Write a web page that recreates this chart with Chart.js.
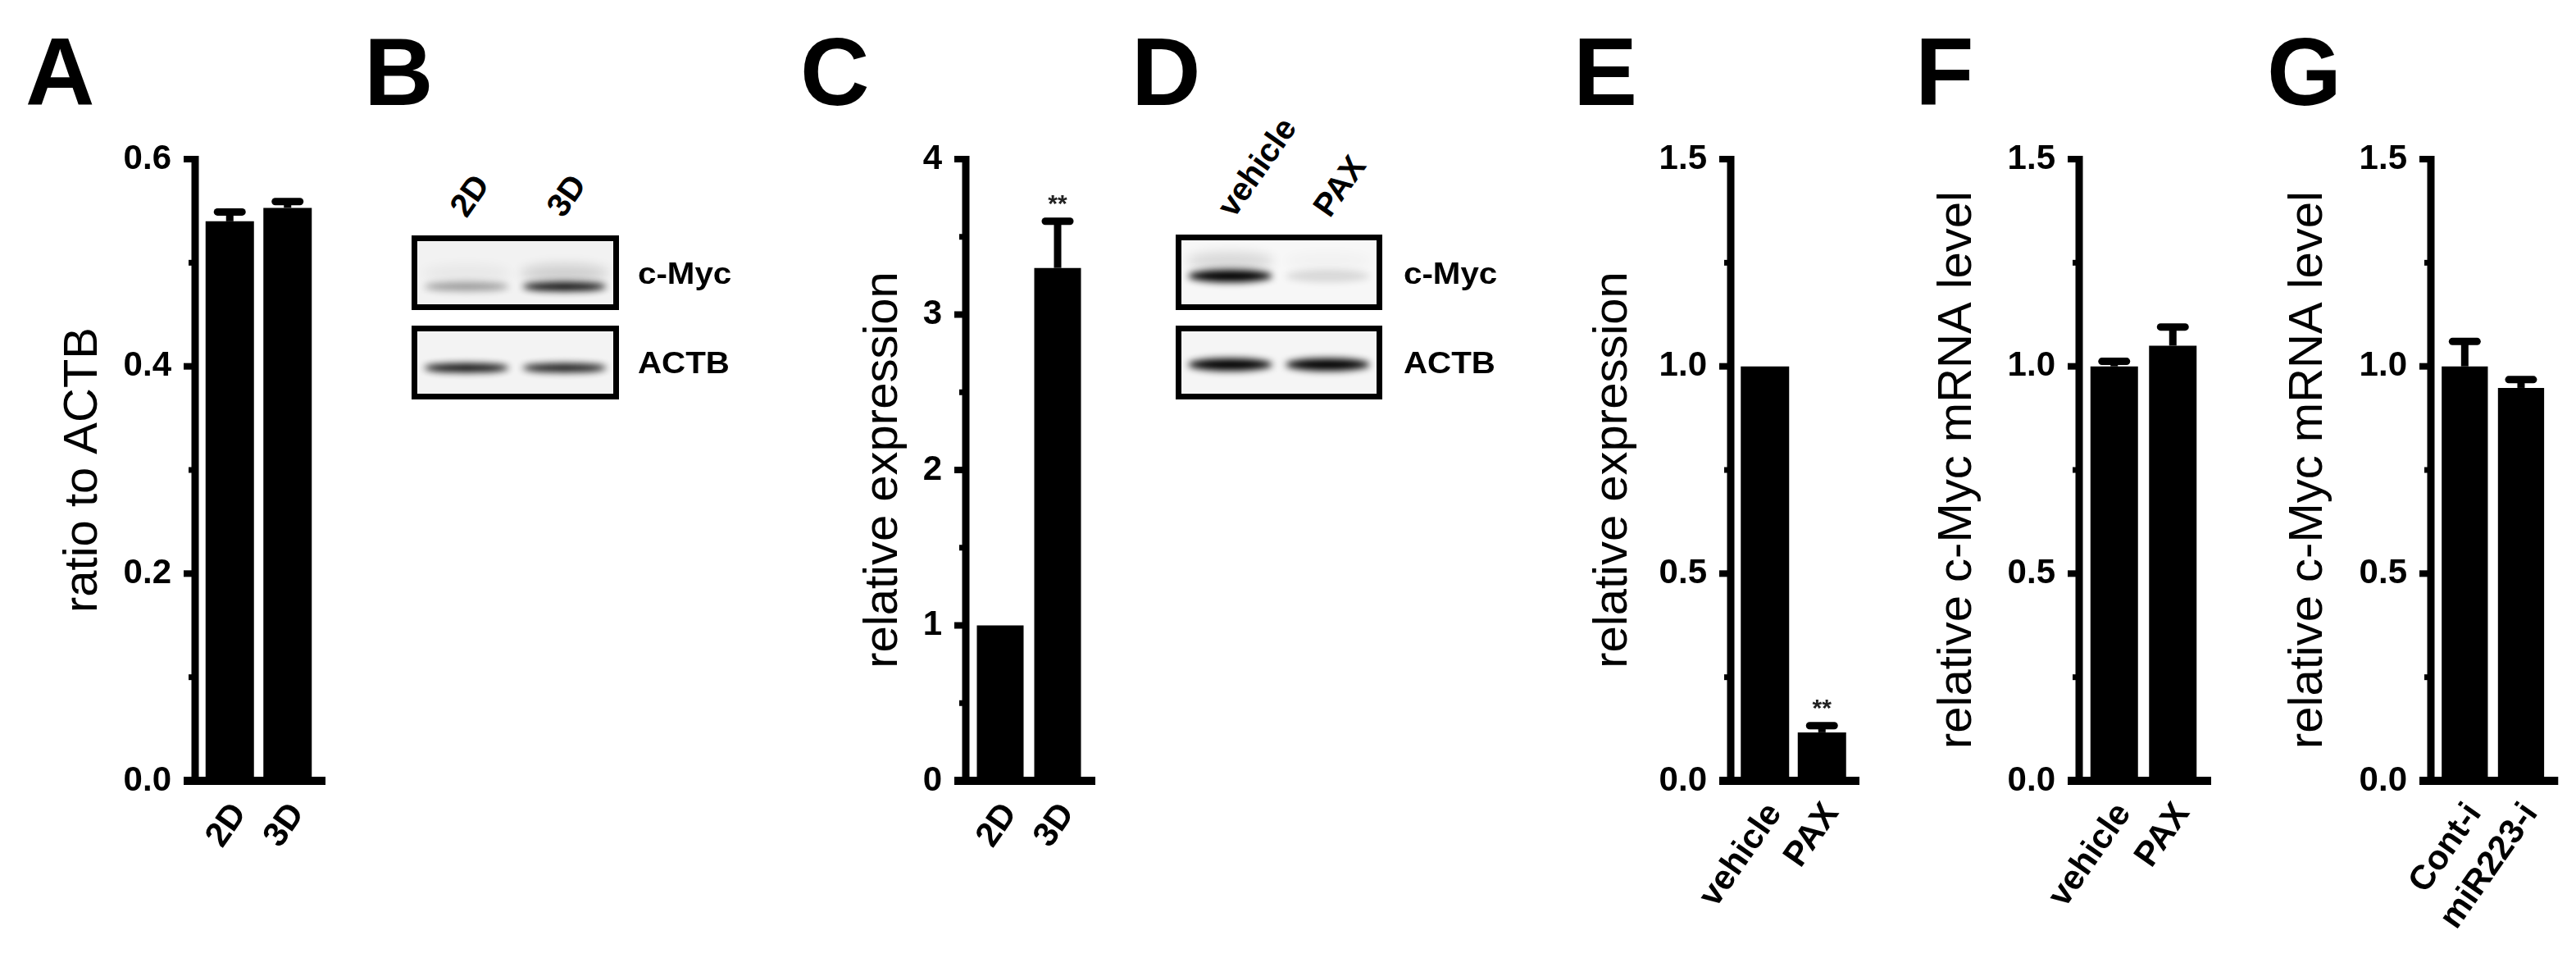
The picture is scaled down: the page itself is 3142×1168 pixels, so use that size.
<!DOCTYPE html>
<html>
<head>
<meta charset="utf-8">
<title>c-Myc expression in 2D / 3D culture</title>
<script src="https://cdn.jsdelivr.net/npm/chart.js@4.4.1/dist/chart.umd.min.js"></script>
<style>
  html, body { margin: 0; padding: 0; background: #fff; }
  #figure { position: relative; width: 3142px; height: 1168px; overflow: hidden;
            font-family: "Liberation Sans", Arial, Helvetica, sans-serif; color: #000; }
  #figure canvas { position: absolute; top: 0; }
  .panel-letter { position: absolute; top: 29px; font-weight: bold; font-size: 117px; line-height: 1; }
  .blot { position: absolute; box-sizing: border-box; border: 7px solid #000; background: #f4f4f4; overflow: hidden; }
  .band { position: absolute; border-radius: 50%; background: #000; filter: blur(4px); }
  .blot-label { position: absolute; font-weight: bold; font-size: 36px; line-height: 1; white-space: nowrap;
                transform-origin: 0 0; transform: scaleX(1.12); }
  .lane-label { position: absolute; font-weight: bold; font-size: 40px; line-height: 1; white-space: nowrap;
                transform-origin: 0 34px; transform: rotate(-55deg); }
</style>
</head>
<body>
<div id="figure"></div>
<script>
// ---- data ----

// A: c-Myc / ACTB band ratio
const aLabels = ['2D', '3D'];
const aMeans = [0.540, 0.553];
const aErrors = [0.009, 0.006];
const aStars = ['', ''];
const aTicks = ['0.0', '0.2', '0.4', '0.6'];

// C: relative expression (protein)
const cLabels = ['2D', '3D'];
const cMeans = [1.0, 3.30];
const cErrors = [0, 0.30];
const cStars = ['', '**'];
const cTicks = ['0', '1', '2', '3', '4'];

// E: relative expression after PAX
const eLabels = ['vehicle', 'PAX'];
const eMeans = [1.0, 0.117];
const eErrors = [0, 0.016];
const eStars = ['', '**'];
const eTicks = ['0.0', '0.5', '1.0', '1.5'];

// F: c-Myc mRNA after PAX
const fLabels = ['vehicle', 'PAX'];
const fMeans = [1.0, 1.05];
const fErrors = [0.012, 0.045];
const fStars = ['', ''];
const fTicks = ['0.0', '0.5', '1.0', '1.5'];

// G: c-Myc mRNA after miR223 inhibitor
const gLabels = ['Cont-i', 'miR223-i'];
const gMeans = [1.0, 0.948];
const gErrors = [0.06, 0.02];
const gStars = ['', ''];
const gTicks = ['0.0', '0.5', '1.0', '1.5'];

// B / D: western blot band intensity per lane (0 = none, 1 = black)
const bLanes = ['2D', '3D'];
const bMycBands = [0.35, 0.95];
const bMycHaze = [0.04, 0.14];
const bActbBands = [0.95, 0.9];
const dLanes = ['vehicle', 'PAX'];
const dMycBands = [1.0, 0.12];
const dMycHaze = [0.12, 0.02];
const dActbBands = [1.0, 1.0];

// ---- layout ----
const FONT = '"Liberation Sans", Arial, Helvetica, sans-serif';
const PLOT_TOP = 194;
const PLOT_BOTTOM = 952;
const HEIGHT = 1168;

const barPanels = [
    { letter: 'A', letterX: 31, left: 0, width: 420, plotLeft: 245, plotRight: 386, barWidth: 59, titleX: 102,
      yTitle: 'ratio to ACTB', max: 0.6, step: 0.2,
      labels: aLabels, means: aMeans, errors: aErrors, stars: aStars, ticks: aTicks },
    { letter: 'C', letterX: 976, left: 960, width: 420, plotLeft: 1185, plotRight: 1325, barWidth: 57, titleX: 1078,
      yTitle: 'relative expression', max: 4, step: 1,
      labels: cLabels, means: cMeans, errors: cErrors, stars: cStars, ticks: cTicks },
    { letter: 'E', letterX: 1919, left: 1900, width: 400, plotLeft: 2118, plotRight: 2257, barWidth: 59, titleX: 1968,
      yTitle: 'relative expression', max: 1.5, step: 0.5,
      labels: eLabels, means: eMeans, errors: eErrors, stars: eStars, ticks: eTicks },
    { letter: 'F', letterX: 2336, left: 2320, width: 400, plotLeft: 2543, plotRight: 2686, barWidth: 58, titleX: 2388,
      yTitle: 'relative c-Myc mRNA level', max: 1.5, step: 0.5,
      labels: fLabels, means: fMeans, errors: fErrors, stars: fStars, ticks: fTicks },
    { letter: 'G', letterX: 2765, left: 2740, width: 402, plotLeft: 2972, plotRight: 3111, barWidth: 57, titleX: 2816,
      yTitle: 'relative c-Myc mRNA level', max: 1.5, step: 0.5,
      labels: gLabels, means: gMeans, errors: gErrors, stars: gStars, ticks: gTicks }
];

const blotPanels = [
    { letter: 'B', letterX: 444, lanes: bLanes, laneLabelX: [569, 687],
      rows: [
          { name: 'c-Myc', box: [502, 287, 253, 91], bands: bMycBands, haze: bMycHaze, yFrac: 0.69, thick: 11, bg: '#f2f2f2' },
          { name: 'ACTB', box: [502, 397, 253, 90], bands: bActbBands, haze: null, yFrac: 0.57, thick: 11, bg: '#f3f3f3' }
      ], labelX: 778 },
    { letter: 'D', letterX: 1380, lanes: dLanes, laneLabelX: [1505, 1622],
      rows: [
          { name: 'c-Myc', box: [1434, 286, 252, 92], bands: dMycBands, haze: dMycHaze, yFrac: 0.55, thick: 15, bg: '#f7f7f7' },
          { name: 'ACTB', box: [1434, 397, 252, 90], bands: dActbBands, haze: null, yFrac: 0.53, thick: 15, bg: '#f5f5f5' }
      ], labelX: 1712 }
];
const ROW_BASELINES = [346, 455];

const fig = document.getElementById('figure');

// Plugin drawing Prism-style axes, minor ticks, error bars and stars
const prismAxes = {
    id: 'prismAxes',
    afterDatasetsDraw(chart, args, opts) {
        const { ctx, chartArea } = chart;
        const y = chart.scales.y;
        const axisX = chartArea.left - 7;
        const y0 = y.getPixelForValue(0);
        const yTop = y.getPixelForValue(y.max);
        ctx.save();
        ctx.strokeStyle = '#000';
        ctx.fillStyle = '#000';

        // y axis line
        ctx.lineWidth = 9;
        ctx.beginPath();
        ctx.moveTo(axisX, yTop - 4);
        ctx.lineTo(axisX, y0);
        ctx.stroke();

        // major and minor ticks
        const values = y.ticks.map(t => t.value);
        ctx.lineWidth = 8;
        values.forEach(v => {
            const py = y.getPixelForValue(v);
            ctx.beginPath();
            ctx.moveTo(axisX - 14, py);
            ctx.lineTo(axisX, py);
            ctx.stroke();
        });
        ctx.lineWidth = 7;
        for (let k = 0; k < values.length - 1; k++) {
            const py = y.getPixelForValue((values[k] + values[k + 1]) / 2);
            ctx.beginPath();
            ctx.moveTo(axisX - 8, py);
            ctx.lineTo(axisX, py);
            ctx.stroke();
        }

        // x axis line
        ctx.lineWidth = 10;
        ctx.beginPath();
        ctx.moveTo(axisX - 14, y0);
        ctx.lineTo(chartArea.right + 11, y0);
        ctx.stroke();

        // error bars (upper half only) and significance stars
        const meta = chart.getDatasetMeta(0);
        const means = chart.data.datasets[0].data;
        meta.data.forEach((bar, i) => {
            const err = opts.errors[i] || 0;
            const capY = y.getPixelForValue(means[i] + err);
            if (err > 0) {
                ctx.lineCap = 'butt';
                ctx.lineWidth = 9;
                ctx.beginPath();
                ctx.moveTo(bar.x, bar.y);
                ctx.lineTo(bar.x, capY);
                ctx.stroke();
                ctx.lineCap = 'round';
                ctx.beginPath();
                ctx.moveTo(bar.x - 15, capY);
                ctx.lineTo(bar.x + 15, capY);
                ctx.stroke();
            }
            if (opts.stars[i]) {
                ctx.font = 'bold 30px ' + FONT;
                ctx.textAlign = 'center';
                ctx.textBaseline = 'alphabetic';
                ctx.fillStyle = '#222';
                ctx.fillText(opts.stars[i], bar.x, capY - 12);
            }
        });
        ctx.restore();
    }
};

// Function to add a bold panel letter
function addLetter(letter, x) {
    const el = document.createElement('div');
    el.className = 'panel-letter';
    el.style.left = x + 'px';
    el.textContent = letter;
    fig.appendChild(el);
}

// Function to build one bar chart panel
function makeBarChart(p) {
    addLetter(p.letter, p.letterX);
    const canvas = document.createElement('canvas');
    canvas.width = p.width;
    canvas.height = HEIGHT;
    canvas.style.left = p.left + 'px';
    fig.appendChild(canvas);

    const categoryWidth = (p.plotRight - p.plotLeft) / p.labels.length;

    return new Chart(canvas.getContext('2d'), {
        type: 'bar',
        data: {
            labels: p.labels,
            datasets: [{
                data: p.means,
                backgroundColor: '#000',
                borderWidth: 0,
                barPercentage: p.barWidth / categoryWidth,
                categoryPercentage: 1
            }]
        },
        options: {
            responsive: false,
            animation: false,
            events: [],
            devicePixelRatio: 1,
            layout: {
                padding: { left: 0, top: PLOT_TOP, right: p.left + p.width - p.plotRight, bottom: 0 }
            },
            plugins: {
                legend: { display: false },
                tooltip: { enabled: false },
                prismAxes: { errors: p.errors, stars: p.stars }
            },
            scales: {
                x: {
                    type: 'category',
                    offset: true,
                    grid: { display: false, drawTicks: false },
                    border: { display: false },
                    ticks: {
                        color: '#000',
                        font: { family: FONT, size: 42, weight: 'bold' },
                        minRotation: 55,
                        maxRotation: 55,
                        autoSkip: false,
                        padding: 18,
                        labelOffset: 12
                    },
                    afterFit: scale => { scale.height = HEIGHT - PLOT_BOTTOM; }
                },
                y: {
                    min: 0,
                    max: p.max,
                    grid: { display: false, drawTicks: false },
                    border: { display: false },
                    ticks: {
                        stepSize: p.step,
                        color: '#000',
                        font: { family: FONT, size: 42, weight: 'bold' },
                        padding: 36,
                        callback: (value, index) => p.ticks[index]
                    },
                    title: {
                        display: true,
                        text: p.yTitle,
                        color: '#000',
                        font: { family: FONT, size: 58, weight: 'normal', lineHeight: 1 },
                        padding: { top: p.titleX - p.left - 29, bottom: 0 }
                    },
                    afterFit: scale => { scale.width = p.plotLeft - p.left; }
                }
            }
        },
        plugins: [prismAxes]
    });
}

// Function to draw a western blot panel (boxes, bands and labels)
function makeBlot(p) {
    addLetter(p.letter, p.letterX);
    p.lanes.forEach((lane, i) => {
        const el = document.createElement('div');
        el.className = 'lane-label';
        el.textContent = lane;
        el.style.left = p.laneLabelX[i] + 'px';
        el.style.top = (267 - 34) + 'px';
        fig.appendChild(el);
    });
    p.rows.forEach((row, r) => {
        const [left, top, w, h] = row.box;
        const box = document.createElement('div');
        box.className = 'blot';
        box.style.cssText = `left:${left}px;top:${top}px;width:${w}px;height:${h}px;background:${row.bg}`;
        fig.appendChild(box);

        const innerW = w - 14;
        const laneW = innerW / p.lanes.length;
        const bandY = row.yFrac * h - 7;
        row.bands.forEach((level, i) => {
            const band = document.createElement('div');
            band.className = 'band';
            band.style.left = (i * laneW + 8) + 'px';
            band.style.width = (laneW - 16) + 'px';
            band.style.top = (bandY - row.thick / 2) + 'px';
            band.style.height = row.thick + 'px';
            band.style.opacity = level;
            box.appendChild(band);
            if (row.haze) {
                const haze = document.createElement('div');
                haze.className = 'band';
                haze.style.left = (i * laneW + 6) + 'px';
                haze.style.width = (laneW - 12) + 'px';
                haze.style.top = (bandY - row.thick / 2 - 22) + 'px';
                haze.style.height = '22px';
                haze.style.filter = 'blur(7px)';
                haze.style.opacity = row.haze[i];
                box.appendChild(haze);
            }
        });

        const label = document.createElement('div');
        label.className = 'blot-label';
        label.textContent = row.name;
        label.style.left = p.labelX + 'px';
        label.style.top = (ROW_BASELINES[r] - 30.5) + 'px';
        fig.appendChild(label);
    });
}

blotPanels.forEach(makeBlot);
barPanels.forEach(makeBarChart);
</script>
</body>
</html>
